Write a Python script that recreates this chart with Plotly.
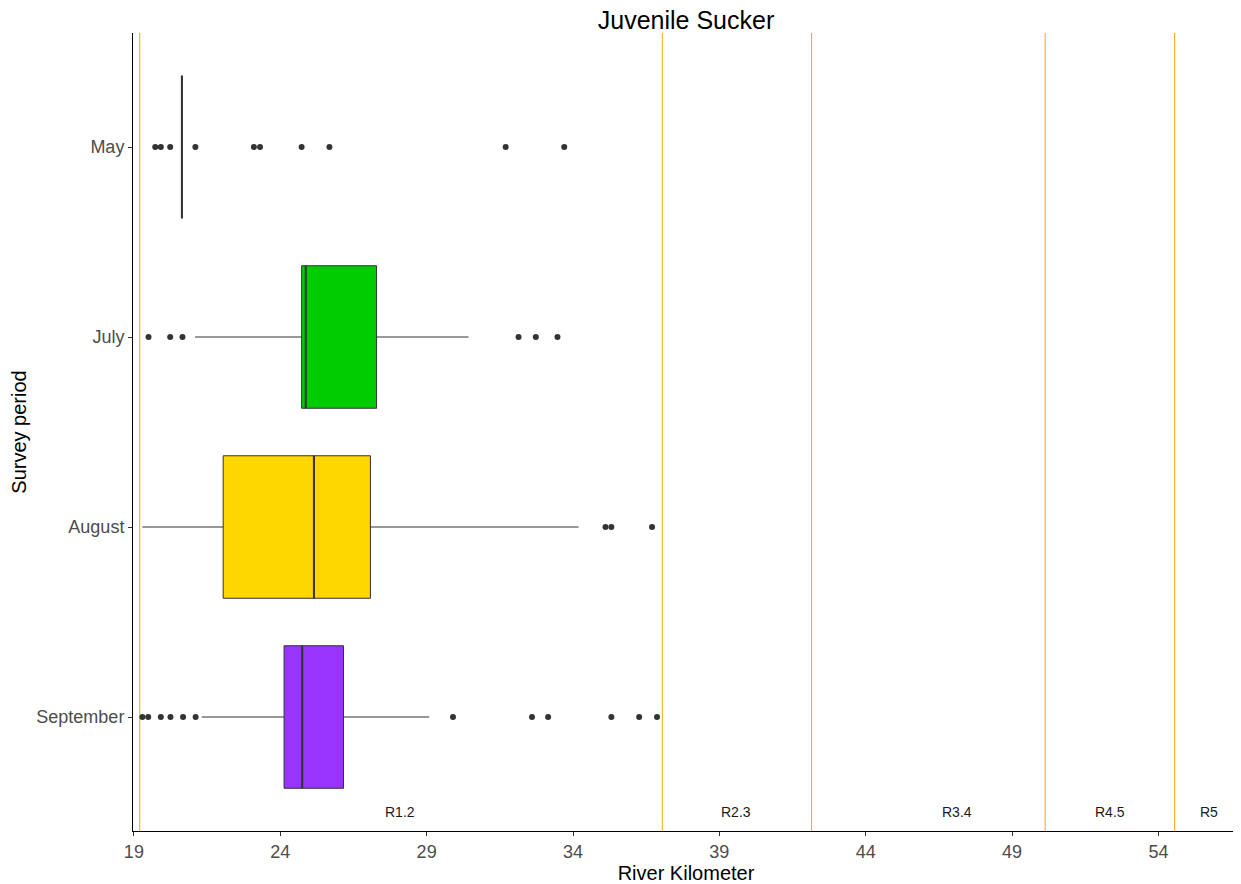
import plotly.graph_objects as go

# ---- data ----
periods = ["September", "August", "July", "May"]
positions = [1, 2, 3, 4]
fill_colors = ["#9933FF", "#FFD700", "#00CC00", "#FFFFFF"]

q1 = [24.13, 22.05, 24.73, 20.64]
median = [24.75, 25.15, 24.87, 20.64]
q3 = [26.16, 27.08, 27.29, 20.64]
lower_fence = [21.32, 19.29, 21.09, 20.64]
upper_fence = [29.09, 34.19, 30.43, 20.64]

outliers = {
    "September": [19.29, 19.49, 19.92, 20.25, 20.68, 21.11, 29.90, 32.60, 33.15, 35.31, 36.26, 36.87],
    "August": [35.11, 35.31, 36.70],
    "July": [19.50, 20.24, 20.66, 32.14, 32.73, 33.47],
    "May": [19.73, 19.92, 20.24, 21.10, 23.10, 23.31, 24.73, 25.68, 31.70, 33.70],
}

region_breaks = [19.2, 37.05, 42.15, 50.13, 54.55]
region_labels = ["R1.2", "R2.3", "R3.4", "R4.5", "R5"]
label_pos = [28.1, 39.56, 47.13, 52.34, 55.71]

x_ticks = [19, 24, 29, 34, 39, 44, 49, 54]

BOX_W = 0.75
FONT = "Liberation Sans, Arial, sans-serif"

fig = go.Figure()

for i, p in enumerate(periods):
    fig.add_trace(go.Box(
        y=[positions[i]], q1=[q1[i]], median=[median[i]], q3=[q3[i]],
        lowerfence=[lower_fence[i]], upperfence=[upper_fence[i]],
        orientation="h", width=BOX_W, whiskerwidth=0,
        fillcolor=fill_colors[i] if p != "May" else "rgba(0,0,0,0)",
        line=dict(color="#333333", width=1),
        boxpoints=False, showlegend=False, hoverinfo="skip",
    ))
    # thicker median line
    fig.add_trace(go.Scatter(
        x=[median[i], median[i]],
        y=[positions[i] - BOX_W / 2, positions[i] + BOX_W / 2],
        mode="lines", line=dict(color="#333333", width=2),
        showlegend=False, hoverinfo="skip",
    ))
    fig.add_trace(go.Scatter(
        x=outliers[p], y=[positions[i]] * len(outliers[p]),
        mode="markers", marker=dict(color="#333333", size=6),
        showlegend=False, hoverinfo="skip",
    ))

for b in region_breaks:
    fig.add_shape(type="line", xref="x", yref="paper", x0=b, x1=b, y0=0, y1=1,
                  line=dict(color="#FFA500", width=1), layer="below")

for lab, xp in zip(region_labels, label_pos):
    fig.add_annotation(x=xp, y=0.5, xref="x", yref="y", text=lab, showarrow=False,
                       font=dict(family=FONT, size=14, color="#1a1a1a"))

# page body has an 8px margin; figure is sized to fit the remaining viewport
fig.update_layout(
    width=1233, height=876,
    margin=dict(l=125, r=2, t=25, b=53, autoexpand=False),
    paper_bgcolor="white", plot_bgcolor="white",
    boxmode="overlay",
    font=dict(family=FONT),
    title=dict(text="Juvenile Sucker", x=0.5, xref="paper", xanchor="center",
               y=1 - 3 / 876, yref="container", yanchor="top", pad=dict(t=0, b=0),
               font=dict(family=FONT, size=25, color="black")),
    xaxis=dict(range=[18.97, 56.75], tickvals=x_ticks, showgrid=False, zeroline=False,
               showline=True, linecolor="black", linewidth=1,
               ticks="outside", ticklen=4, tickcolor="#333333",
               tickfont=dict(family=FONT, size=18, color="#4d4d4d"),
               title=dict(text="River Kilometer", font=dict(family=FONT, size=20, color="black"),
                          standoff=2)),
    yaxis=dict(range=[0.4, 4.6], tickvals=positions, ticktext=periods, showgrid=False,
               zeroline=False, showline=True, linecolor="black", linewidth=1,
               ticks="outside", ticklen=4, tickcolor="#333333",
               tickfont=dict(family=FONT, size=18, color="#4d4d4d"),
               title=dict(text="Survey period", font=dict(family=FONT, size=20, color="black"),
                          standoff=8)),
)

fig.write_html("out.html")
